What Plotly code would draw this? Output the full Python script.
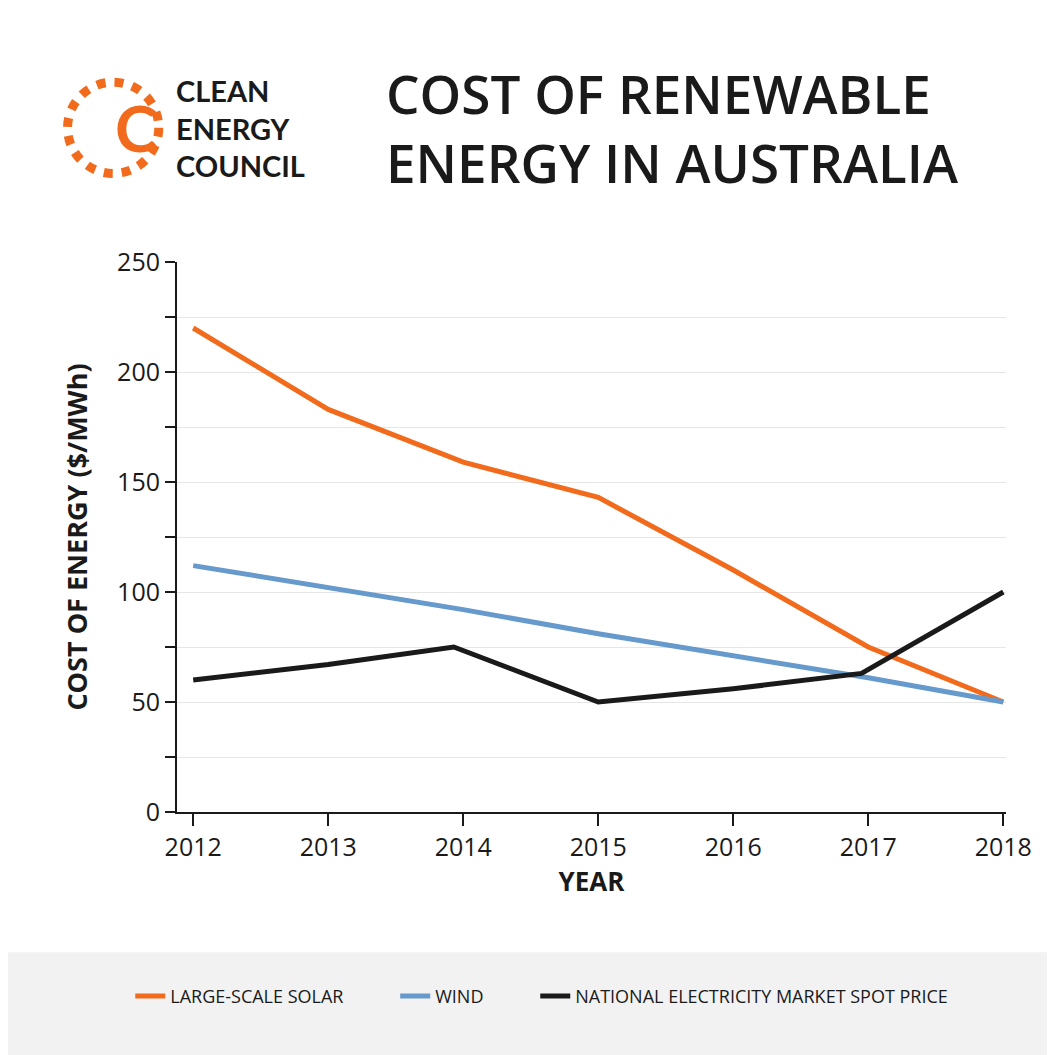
import plotly.graph_objects as go

years = [2012, 2013, 2014, 2015, 2016, 2017, 2018]
solar = [220, 183, 159, 143, 110, 75, 50]
wind = [112, 102, 92, 81, 71, 61, 50]
nem_x = [2012, 2013, 2013.93, 2015, 2016, 2016.95, 2018]
nem = [60, 67, 75, 50, 56, 63, 100]

gap = "\u00a0" * 10
fig = go.Figure()
fig.add_trace(go.Scatter(x=years, y=solar, mode="lines", name="LARGE-SCALE SOLAR" + gap,
                         line=dict(color="#f26a1b", width=5)))
fig.add_trace(go.Scatter(x=years, y=wind, mode="lines", name="WIND" + gap,
                         line=dict(color="#6699cc", width=5)))
fig.add_trace(go.Scatter(x=nem_x, y=nem, mode="lines", name="NATIONAL ELECTRICITY MARKET SPOT PRICE",
                         line=dict(color="#1a1a1a", width=5)))

# bottom legend band
fig.add_shape(type="rect", xref="paper", yref="paper", x0=-0.3, x1=1.1, y0=-0.5, y1=-0.255,
              fillcolor="#f2f2f2", line_width=0, layer="below")
# logo (plot area ~828 x 550 px)
fig.add_shape(type="circle", xref="paper", yref="paper",
              x0=-0.132, x1=-0.022, y0=1.244 - 0.083, y1=1.244 + 0.083,
              line=dict(color="#f26a1b", width=9, dash="dot"))
fig.add_annotation(x=-0.077, y=1.244, xref="paper", yref="paper", yanchor="middle",
                   text="<b>C</b>", showarrow=False,
                   font=dict(size=64, color="#f26a1b", family="Lato"))
fig.add_annotation(x=-0.004, y=1.244, xref="paper", yref="paper", xanchor="left", yanchor="middle",
                   text="<b>CLEAN<br>ENERGY<br>COUNCIL</b>", showarrow=False, align="left",
                   font=dict(size=29, color="#1a1a1a", family="Lato", weight=900))
fig.add_annotation(x=0.25, y=1.244, xref="paper", yref="paper", xanchor="left", yanchor="middle",
                   text="COST OF RENEWABLE<br>ENERGY IN AUSTRALIA", showarrow=False, align="left",
                   font=dict(size=53, color="#1a1a1a", family="Open Sans", weight=600))

fig.update_layout(
    width=1055, height=1055,
    paper_bgcolor="white", plot_bgcolor="white",
    margin=dict(l=169, r=57, t=254, b=251),
    font=dict(family="Lato", color="#1a1a1a"),
    showlegend=True,
    legend=dict(orientation="h", x=0.44, xanchor="center", y=-0.335, yanchor="middle",
                font=dict(size=18, family="Open Sans"), bgcolor="rgba(0,0,0,0)"),
    xaxis=dict(range=[2011.88, 2018.02], tickvals=years, ticks="outside", ticklen=12,
               tickwidth=2, tickcolor="#1a1a1a", showline=True, linewidth=2, linecolor="#1a1a1a",
               showgrid=False, tickfont=dict(size=25, family="Open Sans"),
               title=dict(text="<b>YEAR</b>", font=dict(size=26, family="Open Sans"), standoff=8)),
    yaxis=dict(range=[0, 250], dtick=50, ticks="outside", ticklen=10, tickwidth=2,
               tickcolor="#1a1a1a", showline=True, linewidth=2, linecolor="#1a1a1a",
               gridcolor="#e6e6e6", gridwidth=1, tickfont=dict(size=25, family="Open Sans"),
               zeroline=False,
               minor=dict(dtick=25, ticks="outside", ticklen=10, tickcolor="#1a1a1a",
                          showgrid=True, gridcolor="#e6e6e6"),
               title=dict(text="<b>COST OF ENERGY ($/MWh)</b>", font=dict(size=27, family="Open Sans"),
                          standoff=22)),
)

fig.write_html("out.html")
